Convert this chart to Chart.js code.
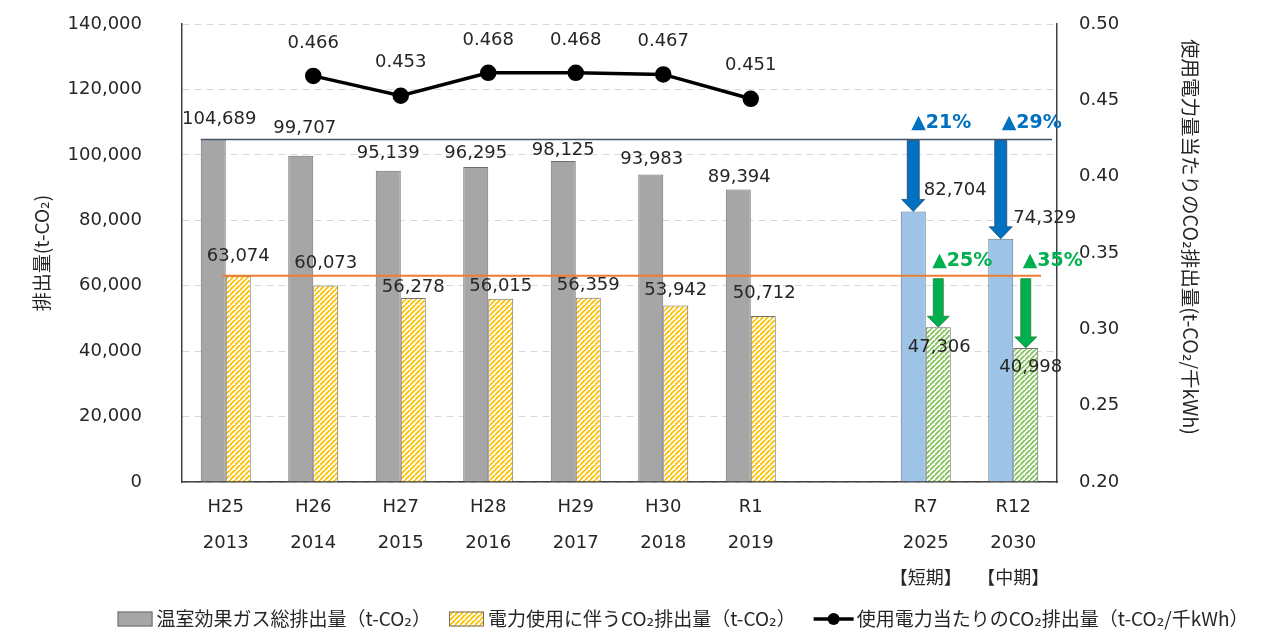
<!DOCTYPE html>
<html lang="ja">
<head>
<meta charset="utf-8">
<title>CO2排出量の推移と削減目標</title>
<script src="https://cdn.jsdelivr.net/npm/chart.js@4.4.1/dist/chart.umd.min.js"></script>
<style>
  html, body { margin: 0; padding: 0; background: #ffffff; }
  #wrap { width: 1269px; height: 632px; }
</style>
</head>
<body>
<div id="wrap"><canvas id="c" width="1269" height="632"></canvas></div>
<script>
// ---- データ ----
// 年度（和暦・西暦・区分）。R1 と R7 の間は空き列
const eraLabels  = ['H25', 'H26', 'H27', 'H28', 'H29', 'H30', 'R1', '', 'R7', 'R12'];
const yearLabels = ['2013', '2014', '2015', '2016', '2017', '2018', '2019', '', '2025', '2030'];
const termLabels = ['', '', '', '', '', '', '', '', '【短期】', '【中期】'];
const targetEras = ['R7', 'R12'];

// 温室効果ガス総排出量（t-CO2）
const totalEmissions = [104689, 99707, 95139, 96295, 98125, 93983, 89394, null, 82704, 74329];
// 電力使用に伴うCO2排出量（t-CO2）
const powerEmissions = [63074, 60073, 56278, 56015, 56359, 53942, 50712, null, 47306, 40998];
// 使用電力当たりのCO2排出量（t-CO2/千kWh）
const intensity = [null, 0.466, 0.453, 0.468, 0.468, 0.467, 0.451, null, null, null];

// 軸目盛
const leftTickValues  = [0, 20000, 40000, 60000, 80000, 100000, 120000, 140000];
const rightTickValues = [0.20, 0.25, 0.30, 0.35, 0.40, 0.45, 0.50];

// 系列名
const seriesNames = [
  '温室効果ガス総排出量（t-CO₂）',
  '電力使用に伴うCO₂排出量（t-CO₂）',
  '使用電力当たりのCO₂排出量（t-CO₂/千kWh）'
];
const leftTitle  = '排出量(t-CO₂)';
const rightTitle = '使用電力量当たりのCO₂排出量(t-CO₂/千kWh)';

// ---- 表示設定 ----
const NUM_FONT = "'DejaVu Sans', 'Noto Sans CJK JP', sans-serif";
const JP_FONT  = "'Noto Sans CJK JP', 'DejaVu Sans', sans-serif";
const TEXT = '#262626';

// 値ラベルの位置ずらし [dx, dy]（棒の上端中央から）
const totalLabelShift = [[6,-20],[4,-27],[0,-17],[0,-14],[0,-11],[1,-15],[1,-12],null,[42,-21],[44,-21]];
const powerLabelShift = [[0,-19],[0,-22],[0,-11],[0,-12],[0,-12],[0,-15],[1,-23],null,[1,20],[5,19]];
const intensityLabelRise = 33;
// 削減率ラベル [dx, dy]（棒の中心・基準線から）
const totalCutShift = { 8: [28, -16], 9: [31, -16] };
const powerCutShift = { 8: [24, -15], 9: [27, -15] };

const isTarget = i => targetEras.includes(eraLabels[i]);

const canvas = document.getElementById('c');
const mainCtx = canvas.getContext('2d');

function hatch(fg, bg, size, lw) {
  const c = document.createElement('canvas');
  c.width = size; c.height = size;
  const g = c.getContext('2d');
  g.fillStyle = bg; g.fillRect(0, 0, size, size);
  g.strokeStyle = fg; g.lineWidth = lw;
  g.beginPath();
  g.moveTo(-1, size + 1); g.lineTo(size + 1, -1);
  g.moveTo(-size - 1, size + 1); g.lineTo(1, -1);
  g.moveTo(size - 1, 2 * size + 1); g.lineTo(2 * size + 1, size - 1);
  g.stroke();
  return mainCtx.createPattern(c, 'repeat');
}

const yellowHatch = hatch('#FFC000', '#ffffff', 5, 1.9);
const greenHatch  = hatch('#84C25A', '#ffffff', 5, 1.9);

const COLORS = {
  gray: '#A6A6A6', grayEdge: '#6E6E6E',
  blue: '#9DC3E6', blueEdge: '#5B7596',
  hatchEdge: '#6E6E6E',
  baseLine: '#44546A', powerLine: '#ED7D31',
  arrowBlue: '#0070C0', arrowBlueEdge: '#1F4E79',
  arrowGreen: '#00B050', arrowGreenEdge: '#2E7D32',
  cutBlue: '#0070C0', cutGreen: '#00B050'
};

function drawArrow(ctx, x, yTop, yTip, shaftW, headW, headL, fill, edge) {
  ctx.beginPath();
  ctx.moveTo(x - shaftW / 2, yTop);
  ctx.lineTo(x + shaftW / 2, yTop);
  ctx.lineTo(x + shaftW / 2, yTip - headL);
  ctx.lineTo(x + headW / 2, yTip - headL);
  ctx.lineTo(x, yTip);
  ctx.lineTo(x - headW / 2, yTip - headL);
  ctx.lineTo(x - shaftW / 2, yTip - headL);
  ctx.closePath();
  ctx.fillStyle = fill; ctx.fill();
  ctx.lineWidth = 0.8; ctx.strokeStyle = edge; ctx.stroke();
}

// 基準年の水平線・削減矢印・値ラベル
const annotate = {
  id: 'annotate',
  afterDatasetsDraw(chart) {
    const ctx = chart.ctx;
    const yS = chart.scales.y;
    const area = chart.chartArea;
    const totalMeta = chart.getDatasetMeta(0);
    const powerMeta = chart.getDatasetMeta(1);
    const lineMeta = chart.getDatasetMeta(2);
    const baseTotalY = yS.getPixelForValue(totalEmissions[0]);
    const basePowerY = yS.getPixelForValue(powerEmissions[0]);
    const t0 = totalMeta.data[0], p0 = powerMeta.data[0];

    ctx.save();
    // 基準年（H25）水準の線
    ctx.lineWidth = 1.5; ctx.strokeStyle = COLORS.baseLine;
    ctx.beginPath();
    ctx.moveTo(t0.x - t0.width / 2, baseTotalY);
    ctx.lineTo(area.right - 5, baseTotalY);
    ctx.stroke();
    ctx.lineWidth = 2; ctx.strokeStyle = COLORS.powerLine;
    ctx.beginPath();
    ctx.moveTo(p0.x - p0.width / 2 - 3, basePowerY);
    ctx.lineTo(area.right - 16, basePowerY);
    ctx.stroke();

    // 削減矢印と削減率
    ctx.font = 'bold 19px ' + NUM_FONT;
    ctx.textAlign = 'center'; ctx.textBaseline = 'middle';
    eraLabels.forEach((era, i) => {
      if (!isTarget(i)) return;
      const tb = totalMeta.data[i], pb = powerMeta.data[i];
      drawArrow(ctx, tb.x, baseTotalY + 1, tb.y, 12, 23, 12, COLORS.arrowBlue, COLORS.arrowBlueEdge);
      drawArrow(ctx, pb.x, basePowerY + 3, pb.y, 10, 22, 11, COLORS.arrowGreen, COLORS.arrowGreenEdge);
      const tCut = Math.round((1 - totalEmissions[i] / totalEmissions[0]) * 100);
      const pCut = Math.round((1 - powerEmissions[i] / powerEmissions[0]) * 100);
      ctx.fillStyle = COLORS.cutBlue;
      ctx.fillText('▲' + tCut + '%', tb.x + totalCutShift[i][0], baseTotalY + totalCutShift[i][1]);
      ctx.fillStyle = COLORS.cutGreen;
      ctx.fillText('▲' + pCut + '%', pb.x + powerCutShift[i][0], basePowerY + powerCutShift[i][1]);
    });

    // 値ラベル
    ctx.font = '18px ' + NUM_FONT;
    ctx.fillStyle = TEXT;
    const fmt = v => v.toLocaleString('en-US');
    totalEmissions.forEach((v, i) => {
      if (v == null) return;
      const el = totalMeta.data[i], s = totalLabelShift[i];
      ctx.fillText(fmt(v), el.x + s[0], el.y + s[1]);
    });
    powerEmissions.forEach((v, i) => {
      if (v == null) return;
      const el = powerMeta.data[i], s = powerLabelShift[i];
      ctx.fillText(fmt(v), el.x + s[0], el.y + s[1]);
    });
    intensity.forEach((v, i) => {
      if (v == null) return;
      const el = lineMeta.data[i];
      ctx.fillText(v.toFixed(3), el.x, el.y - intensityLabelRise);
    });
    ctx.restore();
  }
};

// 右軸タイトルと凡例
const frame = {
  id: 'frame',
  afterDraw(chart) {
    const ctx = chart.ctx;
    const area = chart.chartArea;
    const y2 = chart.scales.y2;
    ctx.save();
    ctx.fillStyle = TEXT;
    ctx.font = '19.5px ' + JP_FONT;
    ctx.textAlign = 'center'; ctx.textBaseline = 'middle';
    ctx.translate(y2.left + 133, (area.top + area.bottom) / 2 - 16);
    ctx.rotate(Math.PI / 2);
    ctx.fillText(rightTitle, 0, 0);
    ctx.restore();

    // 凡例
    ctx.save();
    ctx.font = '19px ' + JP_FONT;
    ctx.textBaseline = 'middle'; ctx.textAlign = 'left';
    const markerW = [36, 36, 40];
    const gap = 3, itemGap = 18, cy = 619, centerX = 683;
    const widths = seriesNames.map(t => ctx.measureText(t).width);
    let total = itemGap * (seriesNames.length - 1);
    seriesNames.forEach((t, k) => { total += markerW[k] + gap + widths[k]; });
    let x = centerX - total / 2;
    seriesNames.forEach((t, k) => {
      if (k < 2) {
        ctx.fillStyle = k === 0 ? COLORS.gray : yellowHatch;
        ctx.fillRect(x, cy - 7.5, 35, 15);
        ctx.lineWidth = 1; ctx.strokeStyle = COLORS.grayEdge;
        ctx.strokeRect(x + 0.5, cy - 7, 34, 14);
      } else {
        ctx.strokeStyle = '#000'; ctx.lineWidth = 3.5;
        ctx.beginPath(); ctx.moveTo(x, cy); ctx.lineTo(x + 40, cy); ctx.stroke();
        ctx.fillStyle = '#000';
        ctx.beginPath(); ctx.arc(x + 20, cy, 6, 0, Math.PI * 2); ctx.fill();
      }
      x += markerW[k] + gap;
      ctx.fillStyle = TEXT;
      ctx.fillText(t, x, cy);
      x += widths[k] + itemGap;
    });
    ctx.restore();
  }
};

// 縦軸の幅を固定し、目盛の余白が描画領域を押し下げないようにする
function fixVerticalAxis(width) {
  return s => { s.width = width; s.paddingTop = 10; s.paddingBottom = 10; };
}

new Chart(canvas, {
  data: {
    labels: eraLabels.map((era, i) => termLabels[i] ? [era, yearLabels[i], termLabels[i]] : [era, yearLabels[i]]),
    datasets: [
      {
        type: 'bar', label: seriesNames[0], data: totalEmissions, yAxisID: 'y', order: 2,
        backgroundColor: c => isTarget(c.dataIndex) ? COLORS.blue : COLORS.gray,
        borderColor: c => isTarget(c.dataIndex) ? COLORS.blueEdge : COLORS.grayEdge,
        borderWidth: 1,
        categoryPercentage: 50 / 87.5, barPercentage: 1
      },
      {
        type: 'bar', label: seriesNames[1], data: powerEmissions, yAxisID: 'y', order: 2,
        backgroundColor: c => isTarget(c.dataIndex) ? greenHatch : yellowHatch,
        borderColor: COLORS.hatchEdge,
        borderWidth: 1,
        categoryPercentage: 50 / 87.5, barPercentage: 1
      },
      {
        type: 'line', label: seriesNames[2], data: intensity, yAxisID: 'y2', order: 1,
        borderColor: '#000000', borderWidth: 3.5,
        pointRadius: 6.5, pointBackgroundColor: '#000000', pointBorderColor: '#000000',
        spanGaps: false, tension: 0
      }
    ]
  },
  options: {
    responsive: false,
    animation: false,
    events: [],
    layout: { padding: { top: 24, bottom: 32, left: 0, right: 0 } },
    plugins: { legend: { display: false }, tooltip: { enabled: false } },
    scales: {
      x: {
        grid: { display: false, drawTicks: false },
        border: { display: true, color: '#404040', width: 1.5 },
        ticks: {
          autoSkip: false, maxRotation: 0, padding: 7, color: TEXT,
          font: { family: NUM_FONT, size: 18, lineHeight: 2 }
        },
        afterFit: s => { s.height = 118; }
      },
      y: {
        position: 'left', min: 0, max: 140000,
        afterBuildTicks: s => { s.ticks = leftTickValues.map(v => ({ value: v })); },
        grid: { color: '#D9D9D9', lineWidth: 1, drawTicks: false },
        border: { display: true, color: '#404040', width: 1.5, dash: [7, 5] },
        ticks: {
          padding: 40, color: TEXT, font: { family: NUM_FONT, size: 18 },
          callback: v => Number(v).toLocaleString('en-US')
        },
        title: {
          display: true, text: leftTitle, color: TEXT,
          font: { family: JP_FONT, size: 19 }, padding: { top: 30, bottom: 0 }
        },
        afterFit: fixVerticalAxis(182)
      },
      y2: {
        position: 'right', min: 0.2, max: 0.5,
        afterBuildTicks: s => { s.ticks = rightTickValues.map(v => ({ value: v })); },
        grid: { display: false, drawTicks: false },
        border: { display: true, color: '#404040', width: 1.5 },
        ticks: {
          padding: 22, color: TEXT, font: { family: NUM_FONT, size: 18 },
          callback: v => Number(v).toFixed(2)
        },
        afterFit: fixVerticalAxis(212)
      }
    }
  },
  plugins: [annotate, frame]
});
</script>
</body>
</html>
